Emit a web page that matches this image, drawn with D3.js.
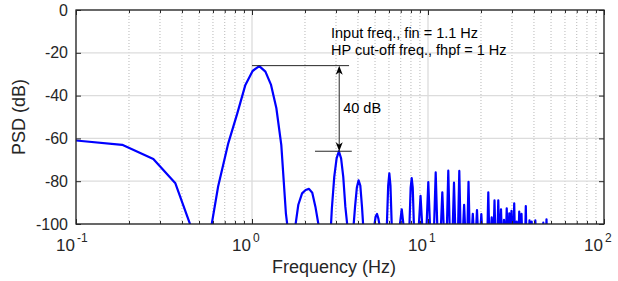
<!DOCTYPE html>
<html>
<head>
<meta charset="utf-8">
<script src="https://cdn.jsdelivr.net/npm/d3@7"></script>
<style>
  body { margin: 0; background: #fff; }
  text { font-family: "Liberation Sans", Arial, sans-serif; fill: #262626; }
</style>
</head>
<body>
<script>
// PSD spectrum, points (Hz, dB); values under -100 are clipped
var freq = [
  // low end + main lobe around 1.1 Hz
  0.092, 0.183, 0.275, 0.367, 0.458, 0.55, 0.642, 0.733, 0.825, 0.917, 1.008, 1.1,
  1.192, 1.283, 1.375, 1.467, 1.558, 1.65,
  // lobe ~2.1 Hz
  1.742, 1.833, 1.925, 2.017, 2.108, 2.2, 2.292, 2.383, 2.475, 2.567, 2.658,
  // lobe ~3.1 Hz
  2.75, 2.842, 2.933, 3.025, 3.117, 3.208, 3.3, 3.392, 3.483, 3.575, 3.667,
  // lobe ~4 Hz
  3.758, 3.85, 3.942, 4.033, 4.125, 4.217, 4.308, 4.4, 4.6,
  // lobe ~5.1 Hz
  4.95, 5.04, 5.133, 5.225, 5.317, 5.41, 5.6,
  // 6 Hz
  5.83, 5.94, 6.03, 6.12, 6.23,
  // narrow spikes above 7 Hz
  6.84, 7.09, 7.34,
  7.82, 7.97, 8.08, 8.19, 8.34,
  8.82, 9.07, 9.32,
  9.78, 10.04, 10.3,
  10.8, 11.06, 11.32,
  11.8, 12.06, 12.32,
  12.78, 13.04, 13.3,
  13.79, 14.05, 14.31,
  14.8, 15.06, 15.32,
  15.78, 16.04, 16.3,
  16.73, 16.99, 17.25,
  17.71, 17.97, 18.23,
  18.72, 18.98, 19.24,
  19.83, 20.09, 20.35,
  21.75, 22.01, 22.27,
  22.75, 23.01, 23.27,
  23.61, 23.87, 24.13,
  24.82, 25.08, 25.34,
  25.73, 25.99, 26.25,
  26.77, 27.03, 27.29,
  27.75, 28.01, 28.27,
  28.71, 28.97, 29.23,
  29.56, 29.82, 30.08,
  30.63, 30.89, 31.15,
  31.66, 31.92, 32.18,
  32.73, 32.99, 33.25,
  33.73, 33.99, 34.25,
  35.69, 35.95, 36.21,
  37.47, 37.73, 37.99,
  38.57, 38.83, 39.09,
  40.46, 40.72, 40.98,
  44.94, 45.2, 45.46,
  46.87, 47.13, 47.39
];
var psd = [
  -60.7, -63, -69.6, -81, -103, -115, -82.5, -62.3, -48.3, -35, -28.5, -26.2,
  -28.8, -35, -45.8, -63, -95, -112,
  -104, -91, -85.7, -84.1, -83.6, -85.4, -91.9, -100, -118, -125, -120,
  -115, -93, -78, -69.3, -66, -69.3, -78, -92, -101, -118, -120,
  -103, -92, -83, -79.6, -82, -92, -104, -120, -125,
  -101, -96.5, -95.3, -97.5, -101, -120, -125,
  -102, -82, -76.3, -82, -102,
  -104, -93.1, -104,
  -104, -83, -78.6, -83, -104,
  -104, -86.8, -104,
  -104, -80.4, -104,
  -104, -75.9, -104,
  -104, -85.2, -104,
  -104, -75.1, -104,
  -104, -80.7, -104,
  -104, -75.2, -104,
  -104, -91, -104,
  -104, -80.3, -104,
  -104, -95.2, -104,
  -104, -93.5, -104,
  -104, -95.4, -104,
  -104, -85.2, -104,
  -104, -96.9, -104,
  -104, -89, -104,
  -104, -88.9, -104,
  -104, -93.1, -104,
  -104, -98.1, -104,
  -104, -92.7, -104,
  -104, -95, -104,
  -104, -93.8, -104,
  -104, -90.3, -104,
  -104, -98.9, -104,
  -104, -94.2, -104,
  -104, -95.3, -104,
  -104, -91.6, -104,
  -104, -98.3, -104,
  -104, -98.9, -104,
  -104, -98.3, -104,
  -104, -99.4, -104,
  -104, -97.8, -104
];

var yTicks = [0, -20, -40, -60, -80, -100];
var xDecades = [0.1, 1, 10, 100];
var xExponents = ["-1", "0", "1", "2"];
var noteLines = ["Input freq., fin = 1.1 Hz", "HP cut-off freq., fhpf = 1 Hz"];
var gapLabel = "40 dB";

// annotation anchors (data units)
var peakDb = -26, secondDb = -66;
var topLine = [1.0, 3.56], lowLine = [2.28, 3.69], arrowFreq = 3.13;

// define size
var width = 618, height = 281;
var margin = {left: 76, right: 14, top: 10, bottom: 57};

var svg = d3.select("body").append("svg")
    .attr("width", width)
    .attr("height", height);

var x = d3.scaleLog()
    .domain([0.1, 100])
    .range([margin.left, width - margin.right]);

var y = d3.scaleLinear()
    .domain([-100, 0])
    .range([height - margin.bottom, margin.top]);

var x0 = x.range()[0], x1 = x.range()[1], y0 = y.range()[0], y1 = y.range()[1];

var allX = x.ticks();
var minorX = allX.filter(function(d) { return xDecades.indexOf(d) < 0; });

// grid
var grid = svg.append("g");
grid.selectAll(".minor")
  .data(minorX)
  .enter().append("line")
    .attr("x1", function(d) { return x(d); })
    .attr("x2", function(d) { return x(d); })
    .attr("y1", y1).attr("y2", y0)
    .attr("stroke", "#b8b8b8")
    .attr("stroke-width", 1)
    .attr("stroke-dasharray", "1,2");
grid.selectAll(".majx")
  .data(xDecades)
  .enter().append("line")
    .attr("x1", function(d) { return x(d); })
    .attr("x2", function(d) { return x(d); })
    .attr("y1", y1).attr("y2", y0)
    .attr("stroke", "#dcdcdc")
    .attr("stroke-width", 1.3);
grid.selectAll(".majy")
  .data(yTicks)
  .enter().append("line")
    .attr("x1", x0).attr("x2", x1)
    .attr("y1", function(d) { return y(d); })
    .attr("y2", function(d) { return y(d); })
    .attr("stroke", "#dcdcdc")
    .attr("stroke-width", 1.3);

// data line
svg.append("clipPath").attr("id", "plot")
  .append("rect")
    .attr("x", x0).attr("y", y1)
    .attr("width", x1 - x0).attr("height", y0 - y1);

var line = d3.line()
    .x(function(d, i) { return x(freq[i]); })
    .y(function(d) { return y(d); });

svg.append("path")
    .datum(psd)
    .attr("clip-path", "url(#plot)")
    .attr("fill", "none")
    .attr("stroke", "#0000ff")
    .attr("stroke-width", 2.2)
    .attr("stroke-linejoin", "round")
    .attr("d", line);

// axes (ticks point inward)
function styleAxis(g) {
  g.select(".domain").remove();
  g.selectAll("line").attr("stroke", "#262626");
}

svg.append("g")
    .attr("transform", "translate(" + x0 + ",0)")
    .call(d3.axisLeft(y).tickValues(yTicks).tickSize(-5).tickPadding(8)
      .tickFormat(function(d) { return String(d); }))
    .call(styleAxis)
    .attr("font-size", 16)
    .attr("font-family", null);

svg.append("g")
    .attr("transform", "translate(" + x1 + ",0)")
    .call(d3.axisRight(y).tickValues(yTicks).tickSize(-5).tickFormat(""))
    .call(styleAxis);

[[d3.axisBottom, y0], [d3.axisTop, y1]].forEach(function(a) {
  svg.append("g")
      .attr("transform", "translate(0," + a[1] + ")")
      .call(a[0](x).tickValues(xDecades).tickSize(-5).tickFormat(""))
      .call(styleAxis);
  svg.append("g")
      .attr("transform", "translate(0," + a[1] + ")")
      .call(a[0](x).tickValues(minorX).tickSize(-3).tickFormat(""))
      .call(styleAxis);
});

// box
svg.append("rect")
    .attr("x", x0).attr("y", y1)
    .attr("width", x1 - x0).attr("height", y0 - y1)
    .attr("fill", "none")
    .attr("stroke", "#262626")
    .attr("stroke-width", 1.3);

// x tick labels 10^n
var xl = svg.append("g");
xl.selectAll(".base")
  .data(xDecades)
  .enter().append("text")
    .attr("x", function(d) { return x(d) - 1; })
    .attr("y", y0 + 27)
    .attr("text-anchor", "end")
    .attr("font-size", 17)
    .text("10");
xl.selectAll(".exp")
  .data(xDecades)
  .enter().append("text")
    .attr("x", function(d) { return x(d) + 1; })
    .attr("y", y0 + 18)
    .attr("font-size", 12)
    .text(function(d, i) { return xExponents[i]; });

// axis titles
svg.append("text")
    .attr("x", 334)
    .attr("y", 273)
    .attr("text-anchor", "middle")
    .attr("font-size", 18)
    .text("Frequency (Hz)");

svg.append("text")
    .attr("transform", "translate(25," + ((y0 + y1) / 2) + ") rotate(-90)")
    .attr("text-anchor", "middle")
    .attr("font-size", 18)
    .text("PSD (dB)");

// annotation
var ann = svg.append("g").attr("stroke", "#262626").attr("stroke-width", 1);
ann.append("line")
    .attr("x1", x(topLine[0])).attr("x2", x(topLine[1]))
    .attr("y1", y(peakDb)).attr("y2", y(peakDb));
ann.append("line")
    .attr("x1", x(lowLine[0])).attr("x2", x(lowLine[1]))
    .attr("y1", y(secondDb)).attr("y2", y(secondDb));

var ax = x(arrowFreq), ayTop = y(peakDb), ayBot = y(secondDb);
ann.append("line")
    .attr("x1", ax).attr("x2", ax)
    .attr("y1", ayTop + 4).attr("y2", ayBot - 4);

function head(tx, ty, dir) {
  return "M" + tx + "," + ty +
    "L" + (tx - 3.5) + "," + (ty + dir * 9) +
    "L" + tx + "," + (ty + dir * 6.5) +
    "L" + (tx + 3.5) + "," + (ty + dir * 9) + "Z";
}
ann.append("path").attr("d", head(ax, ayTop, 1)).attr("fill", "#000").attr("stroke", "none");
ann.append("path").attr("d", head(ax, ayBot, -1)).attr("fill", "#000").attr("stroke", "none");

svg.append("text")
    .attr("x", ax + 4)
    .attr("y", (ayTop + ayBot) / 2 + 5)
    .attr("font-size", 14.5)
    .style("fill", "#000")
    .text(gapLabel);

svg.selectAll(".note")
  .data(noteLines)
  .enter().append("text")
    .attr("x", 331)
    .attr("y", function(d, i) { return 38 + i * 17; })
    .attr("font-size", 14.5)
    .style("fill", "#000")
    .text(function(d) { return d; });
</script>
</body>
</html>
